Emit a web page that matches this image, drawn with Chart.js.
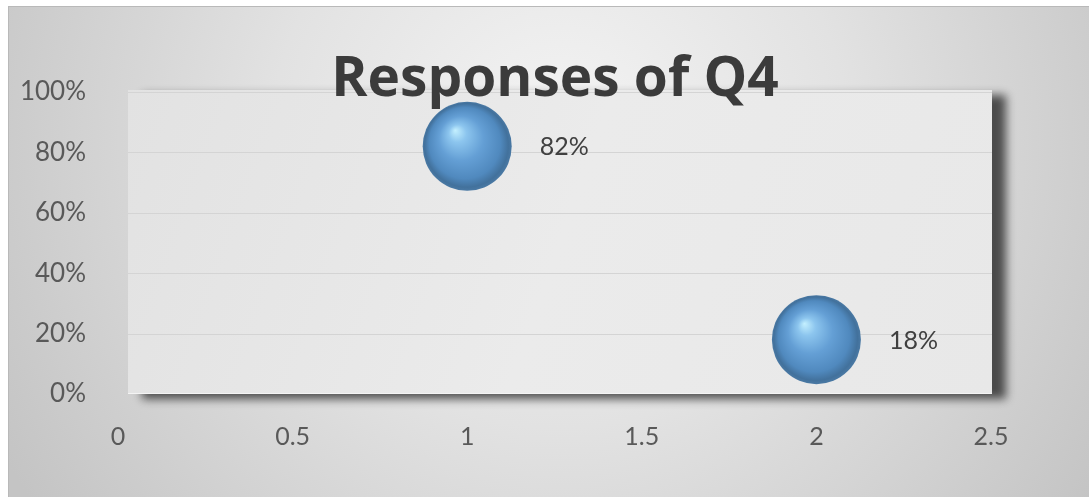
<!DOCTYPE html>
<html>
<head>
<meta charset="utf-8">
<script src="https://cdn.jsdelivr.net/npm/chart.js@4/dist/chart.umd.min.js"></script>
<style>
  html, body { margin: 0; padding: 0; background: #ffffff; }
  #wrap { width: 1089px; height: 497px; position: relative; }
</style>
</head>
<body>
<div id="wrap"><canvas id="chart" width="1089" height="497"></canvas></div>
<script>
// Answer options on the x axis and the share of respondents for each
const answers = [1, 2];
const shares = [0.82, 0.18];
// Relative bubble sizes (both answers drawn at the same size)
const bubbleSizes = [1, 1];
const xTicks = [0, 0.5, 1, 1.5, 2, 2.5];
const yTicks = [0, 0.2, 0.4, 0.6, 0.8, 1];
const titleText = 'Responses of Q4';

const BUBBLE_RADIUS = 44.5;
const TICK_COLOR = '#595959';

const points = answers.map((a, i) => ({ x: a, y: shares[i], r: bubbleSizes[i] * BUBBLE_RADIUS }));

// Glossy sphere fill, centred on each point via the chart's own scales
function sphereFill(ctx) {
  const chart = ctx.chart;
  if (ctx.type !== 'data' || !chart.chartArea) return '#5b9bd5';
  const xs = chart.scales.x, ys = chart.scales.y;
  const cx = xs.getPixelForValue(ctx.parsed.x);
  const cy = ys.getPixelForValue(ctx.parsed.y);
  const r = ctx.raw.r;
  const g = chart.ctx.createRadialGradient(cx - 0.27 * r, cy - 0.36 * r, 0, cx, cy, r);
  g.addColorStop(0, '#c4f0ff');
  g.addColorStop(0.2, '#8cc5ee');
  g.addColorStop(0.5, '#649fd5');
  g.addColorStop(0.8, '#5089be');
  g.addColorStop(0.94, '#42719c');
  g.addColorStop(1, '#4a79a4');
  return g;
}

const backdrop = {
  id: 'backdrop',
  beforeDraw(chart) {
    const c = chart.ctx;
    const W = chart.width, H = chart.height;
    c.save();
    c.fillStyle = '#ffffff';
    c.fillRect(0, 0, W, H);
    const bg = c.createRadialGradient(560, 140, 0, 560, 140, 640);
    bg.addColorStop(0, '#f4f4f4');
    bg.addColorStop(0.45, '#e2e2e2');
    bg.addColorStop(1, '#c4c4c4');
    c.fillStyle = bg;
    c.fillRect(8, 6, W - 8, H - 6);
    c.fillStyle = '#b9b9b9';
    c.fillRect(8, 6, W - 8, 1);
    c.fillRect(8, 6, 1, H - 6);

    // plot wall with its drop shadow
    const a = chart.chartArea;
    const left = a.left + 10, right = a.right + 1, top = a.top - 2, bottom = a.bottom;
    c.save();
    c.shadowColor = 'rgba(40,40,40,0.8)';
    c.shadowBlur = 9;
    c.shadowOffsetX = 14;
    c.shadowOffsetY = 5;
    c.fillStyle = '#e8e8e8';
    c.fillRect(left, top, right - left, bottom - top);
    c.restore();
    const wall = c.createLinearGradient(left, top, right, bottom);
    wall.addColorStop(0, '#e2e2e2');
    wall.addColorStop(0.5, '#ebebeb');
    wall.addColorStop(1, '#e8e8e8');
    c.fillStyle = wall;
    c.fillRect(left, top, right - left, bottom - top);

    // horizontal gridlines at the y ticks
    const ys = chart.scales.y;
    c.strokeStyle = '#d4d4d4';
    c.lineWidth = 1;
    yTicks.forEach(v => {
      if (v === 0) return;
      const y = Math.round(ys.getPixelForValue(v)) + 0.5;
      c.beginPath();
      c.moveTo(left, y);
      c.lineTo(right, y);
      c.stroke();
    });
    c.strokeStyle = '#f4f4f4';
    c.beginPath();
    c.moveTo(left, Math.round(bottom) - 0.5);
    c.lineTo(right, Math.round(bottom) - 0.5);
    c.stroke();
    c.restore();
  }
};

const overlay = {
  id: 'overlay',
  afterDatasetsDraw(chart) {
    const c = chart.ctx;
    const meta = chart.getDatasetMeta(0);
    c.save();
    c.fillStyle = '#404040';
    c.font = '25px Lato, "Open Sans", sans-serif';
    c.textAlign = 'left';
    c.textBaseline = 'middle';
    meta.data.forEach((el, i) => {
      const r = el.options.radius;
      c.fillText(Math.round(shares[i] * 100) + '%', el.x + r + 28, el.y + 1);
    });
    c.restore();
  },
  afterDraw(chart) {
    const c = chart.ctx;
    c.save();
    c.fillStyle = '#3b3b3b';
    c.font = 'bold 55px "Open Sans", Lato, sans-serif';
    c.textAlign = 'center';
    c.textBaseline = 'alphabetic';
    c.fillText(titleText, 555, 96);
    c.restore();
  }
};

new Chart(document.getElementById('chart'), {
  type: 'bubble',
  data: {
    datasets: [{
      label: titleText,
      data: points,
      backgroundColor: sphereFill,
      borderWidth: 0,
      hoverBorderWidth: 0
    }]
  },
  options: {
    responsive: false,
    devicePixelRatio: 1,
    animation: false,
    layout: { padding: { top: 92, right: 98, left: 0, bottom: 0 } },
    plugins: {
      legend: { display: false },
      tooltip: { enabled: false },
      title: { display: false }
    },
    scales: {
      x: {
        type: 'linear',
        min: 0,
        max: 2.5,
        afterBuildTicks(scale) { scale.ticks = xTicks.map(v => ({ value: v })); },
        afterFit(scale) { scale.height = 103; },
        grid: { display: false, drawTicks: false },
        border: { display: false },
        ticks: {
          padding: 28,
          color: TICK_COLOR,
          font: { family: 'Lato, "Open Sans", sans-serif', size: 25 },
          callback: v => String(v)
        }
      },
      y: {
        type: 'linear',
        min: 0,
        max: 1,
        afterBuildTicks(scale) { scale.ticks = yTicks.map(v => ({ value: v })); },
        afterFit(scale) { scale.width = 118; },
        grid: { display: false, drawTicks: false },
        border: { display: false },
        ticks: {
          padding: 32,
          color: TICK_COLOR,
          font: { family: 'Lato, "Open Sans", sans-serif', size: 26 },
          callback: v => Math.round(v * 100) + '%'
        }
      }
    }
  },
  plugins: [backdrop, overlay]
});
</script>
</body>
</html>
